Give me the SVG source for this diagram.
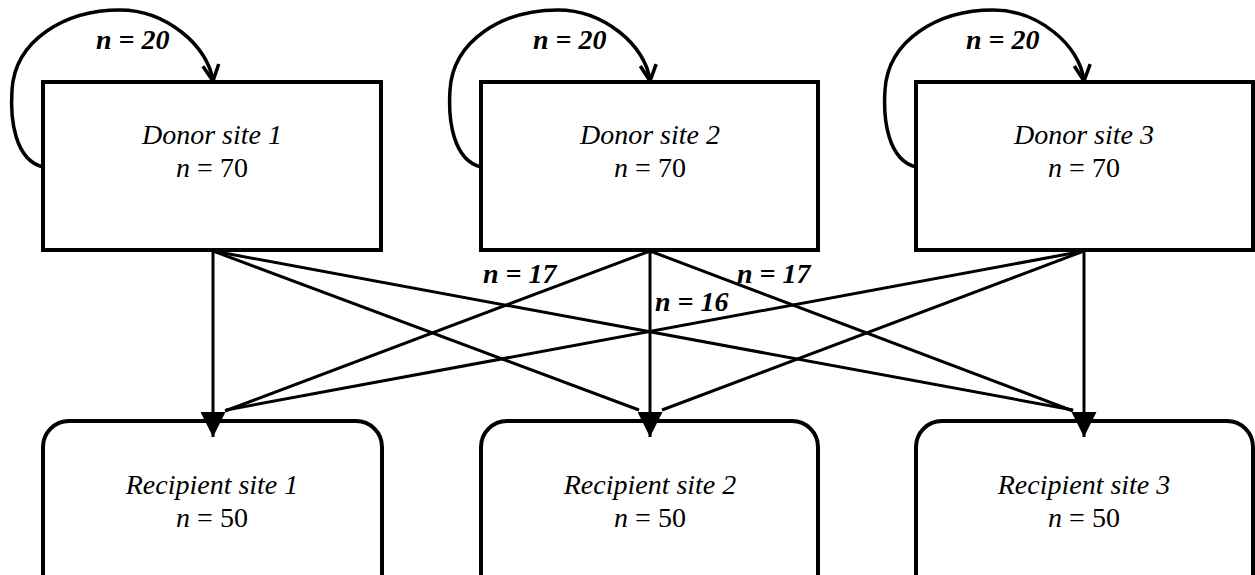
<svg xmlns="http://www.w3.org/2000/svg" width="1255" height="575" viewBox="0 0 1255 575">
<defs>
<style>
.box{fill:#fff;stroke:#000;stroke-width:4}
.ln{fill:none;stroke:#000;stroke-width:3}
.arr{marker-end:url(#tri)}
.loop{fill:none;stroke:#000;stroke-width:3.5;marker-end:url(#chev)}
.t{font-family:"Liberation Serif",serif;font-size:28px;font-style:italic;text-anchor:middle}
.n{font-family:"Liberation Serif",serif;font-size:28px;text-anchor:middle}
.lab{font-family:"Liberation Serif",serif;font-size:28px;font-style:italic;font-weight:bold}
</style>
<marker id="tri" viewBox="0 0 10 10" refX="10" refY="5" markerUnits="userSpaceOnUse" markerWidth="30" markerHeight="25" orient="auto">
<path d="M0,0 L10,5 L0,10 Z" fill="#000"/>
</marker>
<marker id="chev" viewBox="0 0 20 20" refX="18" refY="10" markerUnits="userSpaceOnUse" markerWidth="20" markerHeight="20" orient="auto">
<path d="M2,2 L18,10 L2,18" fill="none" stroke="#000" stroke-width="3.5"/>
</marker>
</defs>
<g id="donor1">
<rect class="box" x="43" y="82" width="338" height="168"/>
<text class="t" x="212" y="144">Donor site 1</text>
<text class="n" x="212" y="177"><tspan font-style="italic">n</tspan> = 70</text>
</g>
<g id="donor2">
<rect class="box" x="481" y="82" width="337" height="168"/>
<text class="t" x="650" y="144">Donor site 2</text>
<text class="n" x="650" y="177"><tspan font-style="italic">n</tspan> = 70</text>
</g>
<g id="donor3">
<rect class="box" x="916" y="82" width="337" height="168"/>
<text class="t" x="1084" y="144">Donor site 3</text>
<text class="n" x="1084" y="177"><tspan font-style="italic">n</tspan> = 70</text>
</g>
<g id="recipient1">
<rect class="box" x="43" y="421" width="339" height="200" rx="26"/>
<text class="t" x="212" y="494">Recipient site 1</text>
<text class="n" x="212" y="527"><tspan font-style="italic">n</tspan> = 50</text>
</g>
<g id="recipient2">
<rect class="box" x="481" y="421" width="337" height="200" rx="26"/>
<text class="t" x="650" y="494">Recipient site 2</text>
<text class="n" x="650" y="527"><tspan font-style="italic">n</tspan> = 50</text>
</g>
<g id="recipient3">
<rect class="box" x="916" y="421" width="337" height="200" rx="26"/>
<text class="t" x="1084" y="494">Recipient site 3</text>
<text class="n" x="1084" y="527"><tspan font-style="italic">n</tspan> = 50</text>
</g>
<g id="connectors">
<path class="loop" d="M43,167 C15,160 10,120 12,90 C15,40 65,10 120,10 C165,10 208,45 213,81"/>
<path class="loop" d="M481,167 C453,160 448,120 450,90 C453,40 503,10 558,10 C603,10 646,45 650,81"/>
<path class="loop" d="M916,167 C888,160 883,120 885,90 C888,40 938,10 993,10 C1038,10 1080,45 1084,81"/>
<line class="ln arr" x1="213" y1="251" x2="213" y2="437"/>
<line class="ln" x1="213" y1="251" x2="639" y2="410"/>
<line class="ln" x1="213" y1="251" x2="1073" y2="410"/>
<line class="ln" x1="650" y1="251" x2="225" y2="411"/>
<line class="ln arr" x1="650" y1="251" x2="650" y2="437"/>
<line class="ln" x1="650" y1="251" x2="1073" y2="411"/>
<line class="ln" x1="1084" y1="251" x2="226" y2="410"/>
<line class="ln" x1="1084" y1="251" x2="662" y2="410"/>
<line class="ln arr" x1="1084" y1="251" x2="1084" y2="437"/>
</g>
<g id="labels">
<text class="lab" x="96" y="49">n = 20</text>
<text class="lab" x="533" y="49">n = 20</text>
<text class="lab" x="966" y="49">n = 20</text>
<text class="lab" x="483" y="283">n = 17</text>
<text class="lab" x="655" y="311">n = 16</text>
<text class="lab" x="737" y="283">n = 17</text>
</g>
</svg>
